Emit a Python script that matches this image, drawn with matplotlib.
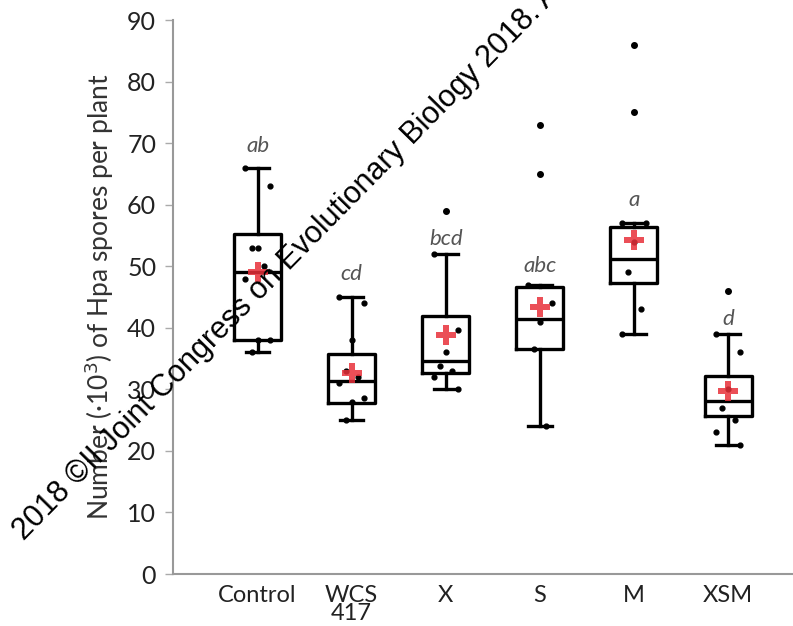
import numpy as np
import matplotlib
matplotlib.use("Agg")
from matplotlib import pyplot as plt

# Groups and box statistics (values in 10^3 spores per plant)
groups = ['Control', 'WCS\n417', 'X', 'S', 'M', 'XSM']
whislo = [36, 25, 30, 24, 39, 21]
q1 = [38, 27.8, 32.7, 36.5, 47.3, 25.7]
med = [49, 31.4, 34.6, 41.4, 51.2, 28.1]
q3 = [55.3, 35.7, 41.9, 46.6, 56.4, 32.2]
whishi = [66, 45, 52, 47, 57, 39]
means = [49, 32.7, 38.9, 43.4, 54.2, 29.7]
outliers = [[], [], [59], [65, 73], [75, 86], [46]]

# Individual plants (dots)
points = [
    [66, 63, 53, 53, 50, 48, 38, 38, 36],
    [45, 44, 38, 33, 32, 31, 28.6, 28, 25],
    [52, 39.7, 36, 33.8, 33, 32, 30],
    [47, 44, 41, 36.5, 24],
    [57, 57, 54, 49, 43, 39],
    [39, 36, 30, 27, 25, 23, 21],
]

letters = ['ab', 'cd', 'bcd', 'abc', 'a', 'd']
letter_y = [69.5, 48.8, 54.5, 50, 60.7, 41.5]

plt.rcParams['font.family'] = ['Lato', 'DejaVu Sans']

fig = plt.figure(figsize=(7.93, 6.26), dpi=100)
ax = fig.add_axes([0.218, 0.083, 0.782, 0.885])

pos = np.arange(1, len(groups) + 1)
stats = []
for i in range(len(groups)):
    stats.append(dict(med=med[i], q1=q1[i], q3=q3[i], whislo=whislo[i],
                      whishi=whishi[i], fliers=outliers[i], label=groups[i]))

ax.bxp(stats, positions=pos, widths=0.5, showfliers=True,
       boxprops=dict(color='black', linewidth=2.4),
       medianprops=dict(color='black', linewidth=2.4),
       whiskerprops=dict(color='black', linewidth=2.4),
       capprops=dict(color='black', linewidth=2.4),
       capwidths=0.25,
       flierprops=dict(marker='o', markersize=4, markerfacecolor='black',
                       markeredgecolor='black'))

# dots for individual plants, spread a little inside the box
offs = [-0.13, 0.13, 0.0, -0.06, 0.07]
for i, vals in enumerate(points):
    xs = [pos[i] + offs[k % len(offs)] for k in range(len(vals))]
    ax.scatter(xs, vals, s=12, color='black', zorder=3)

ax.scatter(pos, means, marker='P', s=200, color='#e8303a', alpha=0.85,
           linewidths=0, zorder=4)

for i, t in enumerate(letters):
    ax.text(pos[i], letter_y[i], t, ha='center', va='center', fontsize=16,
            style='italic', color='#555555')

ax.set_xlim(0.1, 6.69)
ax.set_ylim(0, 90)
ax.set_yticks(range(0, 91, 10))
ax.set_xticks(pos)
ax.set_xticklabels(groups, fontsize=17, color='#222222', linespacing=0.8)
ax.tick_params(axis='x', length=0, pad=8)
ax.tick_params(axis='y', labelsize=18, labelcolor='#222222', length=6,
               width=1, color='#aaaaaa', pad=6)
for s in ['top', 'right']:
    ax.spines[s].set_visible(False)
for s in ['left', 'bottom']:
    ax.spines[s].set_color('#999999')
    ax.spines[s].set_linewidth(1.5)
ax.set_ylabel('Number (·10$^3$) of Hpa spores per plant', fontsize=19,
              color='#333333', labelpad=8)

# diagonal watermark (runs off the top edge, as in the original)
fig.text(0.03, 0.135, '2018 ©II Joint Congress on Evolutionary Biology 2018. All',
         rotation=45.5, rotation_mode='anchor', fontsize=22,
         family='Liberation Sans', color='black', ha='left', va='baseline')

fig.savefig('out.png', dpi=100)
